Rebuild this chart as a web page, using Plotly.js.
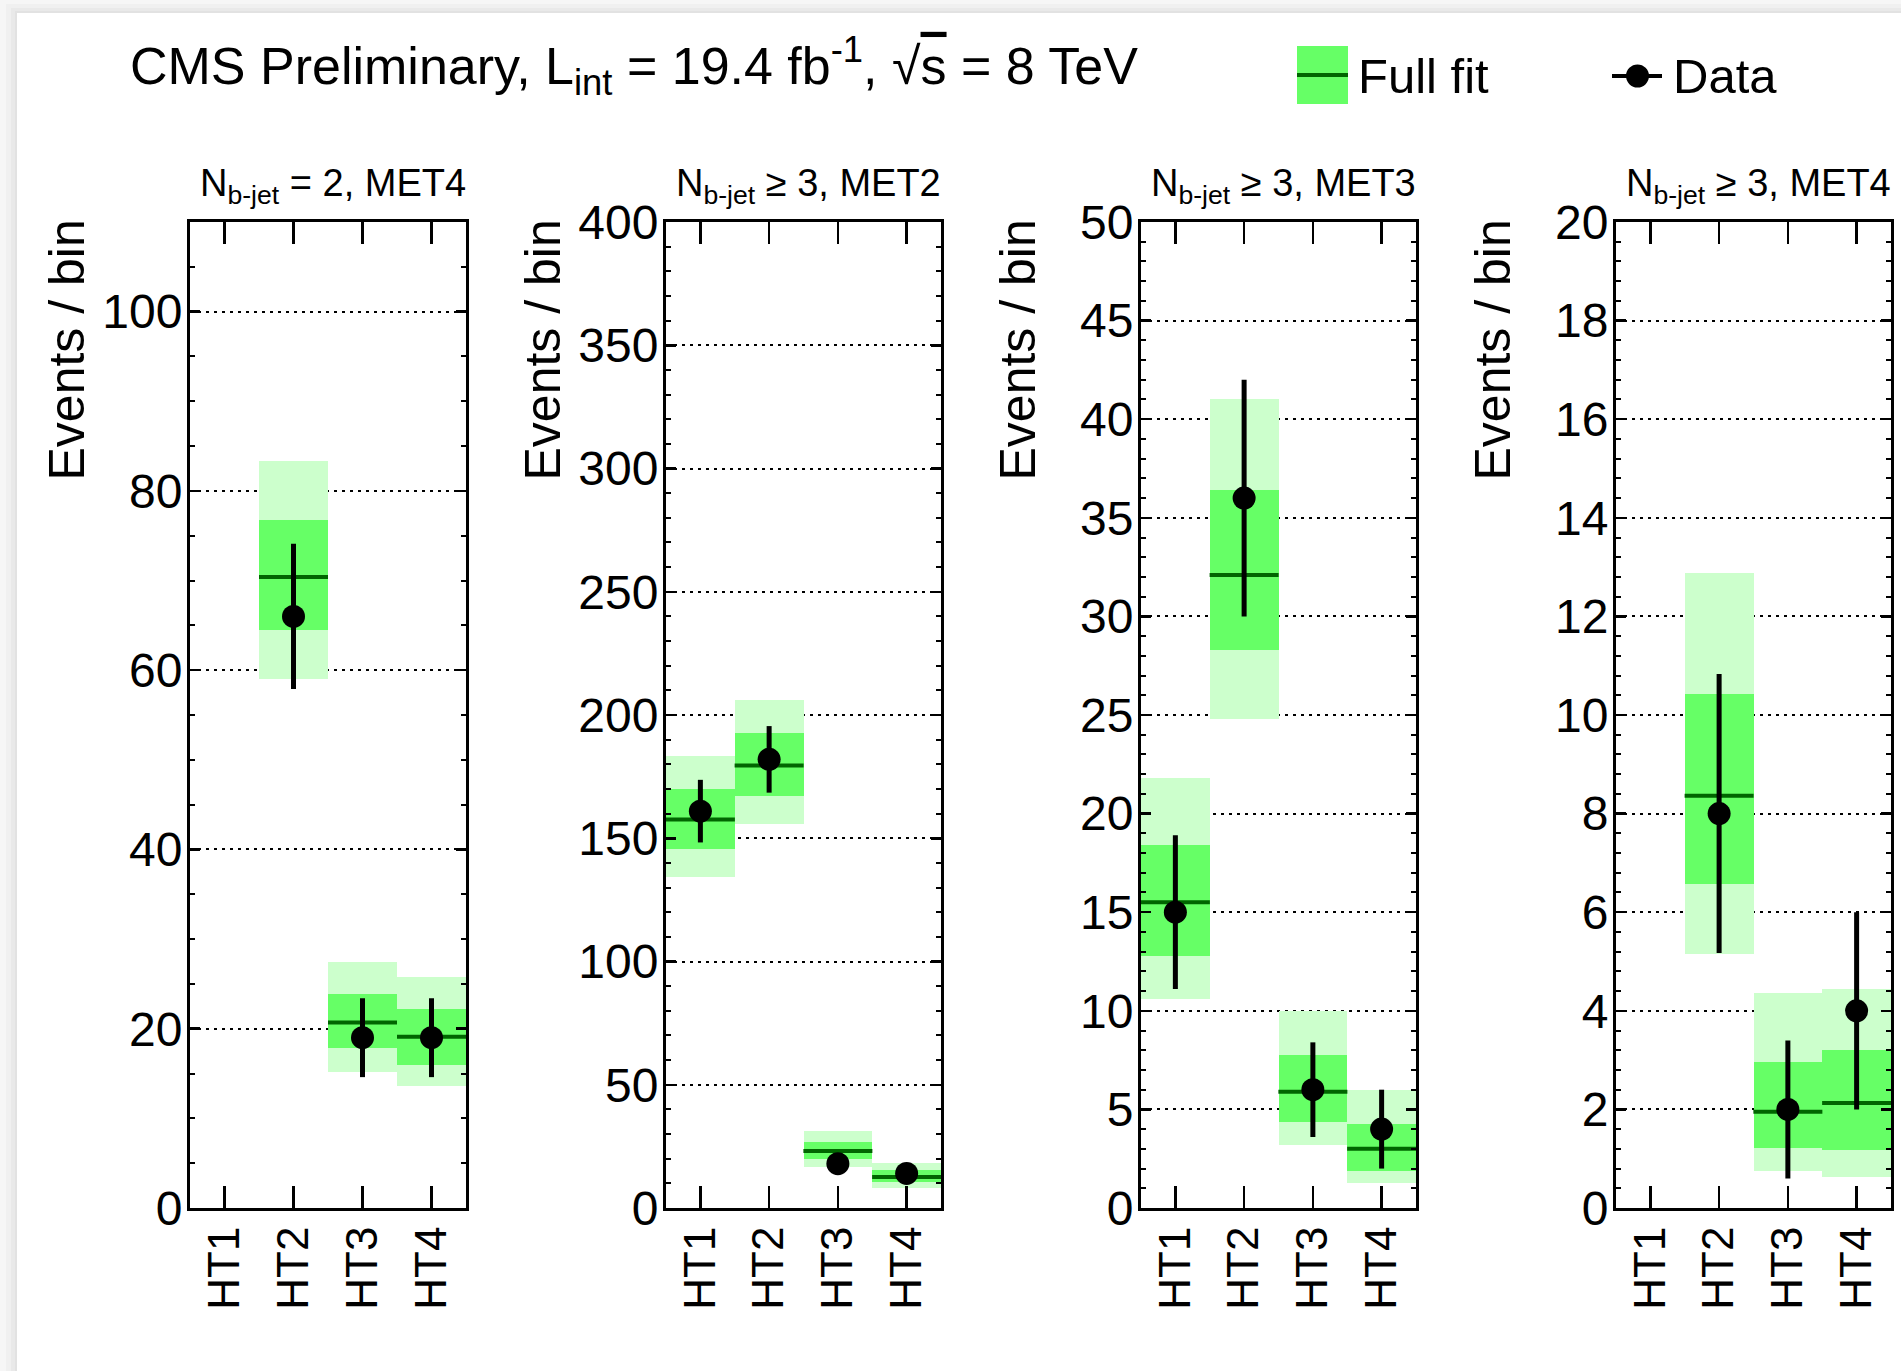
<!DOCTYPE html>
<html><head><meta charset="utf-8">
<script src="https://cdn.plot.ly/plotly-3.0.1.min.js"></script>
<style>html,body{margin:0;padding:0;background:#fff}</style>
</head><body><div id="chart" style="width:1901px;height:1371px"></div>
<script>
// ---------- data ----------
const categories = ['HT1', 'HT2', 'HT3', 'HT4'];
const panelTitles = ['N<sub>b-jet</sub> = 2, MET4', 'N<sub>b-jet</sub> \u2265 3, MET2',
                     'N<sub>b-jet</sub> \u2265 3, MET3', 'N<sub>b-jet</sub> \u2265 3, MET4'];
const yMax = [110, 400, 50, 20];
const yDtick = [20, 50, 5, 2];
const yMinorDtick = [5, 10, 1, 0.4];

// Panel 1: N_b-jet = 2, MET4
const fit1     = [null, 70.4, 20.7, 19.1];
const darkLo1  = [null, 64.5, 17.8, 16.0];
const darkHi1  = [null, 76.8, 23.9, 22.2];
const lightLo1 = [null, 59.0, 15.2, 13.6];
const lightHi1 = [null, 83.3, 27.4, 25.8];
const data1    = [null, 66, 19, 19];
const dataErr1 = [null, 8.1, 4.4, 4.4];

// Panel 2: N_b-jet >= 3, MET2
const fit2     = [157.6, 179.5, 23.1, 12.6];
const darkLo2  = [145.5, 167.1, 20.0, 10.5];
const darkHi2  = [170.0, 192.7, 26.9, 15.3];
const lightLo2 = [134.1, 155.7, 16.6, 8.1];
const lightHi2 = [183.4, 206.2, 31.1, 18.4];
const data2    = [161, 182, 18, 14];
const dataErr2 = [12.7, 13.5, 4.2, 3.7];

// Panel 3: N_b-jet >= 3, MET3
const fit3     = [15.5, 32.1, 5.9, 3.0];
const darkLo3  = [12.8, 28.3, 4.35, 1.9];
const darkHi3  = [18.4, 36.4, 7.75, 4.25];
const lightLo3 = [10.6, 24.8, 3.2, 1.25];
const lightHi3 = [21.8, 41.0, 10.0, 6.0];
const data3    = [15, 36, 6, 4];
const dataErr3 = [3.9, 6.0, 2.4, 2.0];

// Panel 4: N_b-jet >= 3, MET4
const fit4     = [null, 8.36, 1.95, 2.13];
const darkLo4  = [null, 6.57, 1.21, 1.18];
const darkHi4  = [null, 10.43, 2.97, 3.21];
const lightLo4 = [null, 5.15, 0.76, 0.63];
const lightHi4 = [null, 12.88, 4.36, 4.45];
const data4    = [null, 8, 2, 4];
const dataErr4 = [null, 2.83, 1.4, 2.0];

// ---------- build ----------
const W = 1901, H = 1371;
const px = v => v / W;
const py = v => 1 - v / H;
const FONT = 'Liberation Sans, Arial, Helvetica, sans-serif';

const panels = [
  {fit: fit1, dLo: darkLo1, dHi: darkHi1, lLo: lightLo1, lHi: lightHi1, d: data1, e: dataErr1},
  {fit: fit2, dLo: darkLo2, dHi: darkHi2, lLo: lightLo2, lHi: lightHi2, d: data2, e: dataErr2},
  {fit: fit3, dLo: darkLo3, dHi: darkHi3, lLo: lightLo3, lHi: lightHi3, d: data3, e: dataErr3},
  {fit: fit4, dLo: darkLo4, dHi: darkHi4, lLo: lightLo4, lHi: lightHi4, d: data4, e: dataErr4}
];
const frameLeft = [190, 666, 1141, 1616];
const frameRight = [466, 941, 1416, 1891];
const frameTop = 222, frameBottom = 1208;

const traces = [];
const layout = {
  width: W, height: H, autosize: false,
  margin: {l: 0, r: 0, t: 0, b: 0, pad: 0},
  paper_bgcolor: '#f6f6f6', plot_bgcolor: 'rgba(0,0,0,0)',
  showlegend: false, barmode: 'overlay', bargap: 0,
  font: {family: FONT, color: 'black'},
  shapes: [], annotations: []
};

// page with soft shadow
layout.shapes.push({type: 'rect', xref: 'paper', yref: 'paper', layer: 'below',
  x0: px(6), x1: 1, y0: 0, y1: py(4), fillcolor: '#f0f0f0', line: {width: 0}});
layout.shapes.push({type: 'rect', xref: 'paper', yref: 'paper', layer: 'below',
  x0: px(11), x1: 1, y0: 0, y1: py(8), fillcolor: '#e9e9e9', line: {width: 0}});
layout.shapes.push({type: 'rect', xref: 'paper', yref: 'paper', layer: 'below',
  x0: px(15), x1: 1, y0: 0, y1: py(11), fillcolor: '#e2e2e2', line: {width: 0}});
layout.shapes.push({type: 'rect', xref: 'paper', yref: 'paper', layer: 'below',
  x0: px(17), x1: 1, y0: 0, y1: py(13), fillcolor: '#ffffff', line: {width: 0}});

// Plotly's line-ew symbol spans 1.4 x marker size
const binPx = (frameRight[0] - frameLeft[0]) / 4;
const fitMarkerSize = binPx / 1.4;

panels.forEach((p, i) => {
  const n = i === 0 ? '' : String(i + 1);
  const xa = 'x' + n, ya = 'y' + n;
  traces.push({type: 'bar', x: categories, base: p.lLo,
    y: p.lHi.map((h, k) => h == null ? null : h - p.lLo[k]),
    width: 1, marker: {color: '#ccffcc', line: {width: 0}}, xaxis: xa, yaxis: ya, hoverinfo: 'skip'});
  traces.push({type: 'bar', x: categories, base: p.dLo,
    y: p.dHi.map((h, k) => h == null ? null : h - p.dLo[k]),
    width: 1, marker: {color: '#66ff66', line: {width: 0}}, xaxis: xa, yaxis: ya, hoverinfo: 'skip'});
  traces.push({type: 'scatter', mode: 'markers', x: categories, y: p.fit,
    marker: {symbol: 'line-ew', size: fitMarkerSize, line: {width: 4, color: '#006600'}},
    xaxis: xa, yaxis: ya, hoverinfo: 'skip', cliponaxis: true});
  traces.push({type: 'scatter', mode: 'markers', x: categories, y: p.d,
    marker: {symbol: 'circle', size: 23, color: 'black'},
    error_y: {type: 'data', array: p.e, visible: true, thickness: 5, width: 0, color: 'black'},
    xaxis: xa, yaxis: ya, cliponaxis: false});

  layout['xaxis' + n] = {
    domain: [px(frameLeft[i]), px(frameRight[i])], anchor: ya,
    type: 'category', categoryorder: 'array', categoryarray: categories,
    range: [-0.5, 3.5], fixedrange: true,
    showline: true, linewidth: 3, linecolor: 'black', mirror: 'ticks',
    ticks: 'inside', ticklen: 22, tickwidth: 2.5, tickcolor: 'black',
    tickangle: -90, tickfont: {size: 44, color: 'black', family: FONT},
    ticklabelstandoff: -2,
    showgrid: false, zeroline: false
  };
  layout['yaxis' + n] = {
    domain: [1 - frameBottom / H, 1 - frameTop / H], anchor: xa,
    range: [0, yMax[i]], tick0: 0, dtick: yDtick[i], fixedrange: true,
    showline: true, linewidth: 3, linecolor: 'black', mirror: 'ticks',
    ticks: 'inside', ticklen: 10, tickwidth: 2.5, tickcolor: 'black',
    tickfont: {size: 48, color: 'black', family: FONT},
    ticklabelstandoff: -5,
    showgrid: true, gridcolor: 'black', gridwidth: 2, griddash: '2.5px,5.5px',
    zeroline: false,
    minor: {dtick: yMinorDtick[i], tick0: 0, ticks: 'inside', ticklen: 5, tickwidth: 2,
            tickcolor: 'black', showgrid: false}
  };

  // y-axis title, aligned to the top of the axis
  layout.annotations.push({xref: 'paper', yref: 'paper', x: px(frameLeft[i] - 123), y: py(218),
    xanchor: 'center', yanchor: 'top', textangle: -90, showarrow: false,
    text: 'Events / bin', font: {size: 50, color: 'black', family: FONT}});
  // panel title, right aligned to frame
  layout.annotations.push({xref: 'paper', yref: 'paper', x: px(frameRight[i] + 2), y: py(212),
    xanchor: 'right', yanchor: 'bottom', showarrow: false,
    text: panelTitles[i], font: {size: 38, color: 'black', family: FONT}});
});

// main title
layout.annotations.push({xref: 'paper', yref: 'paper', x: px(128), y: py(66),
  xanchor: 'left', yanchor: 'middle', showarrow: false,
  text: 'CMS Preliminary, L<sub>int</sub> = 19.4 fb<sup>-1</sup>, \u221A<span style="text-decoration:overline">s</span> = 8 TeV',
  font: {size: 52, color: 'black', family: FONT}});

// legend: Full fit
layout.shapes.push({type: 'rect', xref: 'paper', yref: 'paper',
  x0: px(1297), x1: px(1348), y0: py(104), y1: py(46), fillcolor: '#66ff66', line: {width: 0}});
layout.shapes.push({type: 'line', xref: 'paper', yref: 'paper',
  x0: px(1297), x1: px(1348), y0: py(75), y1: py(75), line: {color: '#006600', width: 4}});
layout.annotations.push({xref: 'paper', yref: 'paper', x: px(1356), y: py(76),
  xanchor: 'left', yanchor: 'middle', showarrow: false,
  text: 'Full fit', font: {size: 49, color: 'black', family: FONT}});
// legend: Data
layout.shapes.push({type: 'line', xref: 'paper', yref: 'paper',
  x0: px(1612), x1: px(1662), y0: py(76), y1: py(76), line: {color: 'black', width: 4}});
layout.shapes.push({type: 'circle', xref: 'paper', yref: 'paper',
  x0: px(1626), x1: px(1649), y0: py(87.5), y1: py(64.5), fillcolor: 'black', line: {width: 0}});
layout.annotations.push({xref: 'paper', yref: 'paper', x: px(1671), y: py(76),
  xanchor: 'left', yanchor: 'middle', showarrow: false,
  text: 'Data', font: {size: 49, color: 'black', family: FONT}});

Plotly.newPlot('chart', traces, layout, {staticPlot: true, displayModeBar: false});
</script>
</body></html>
